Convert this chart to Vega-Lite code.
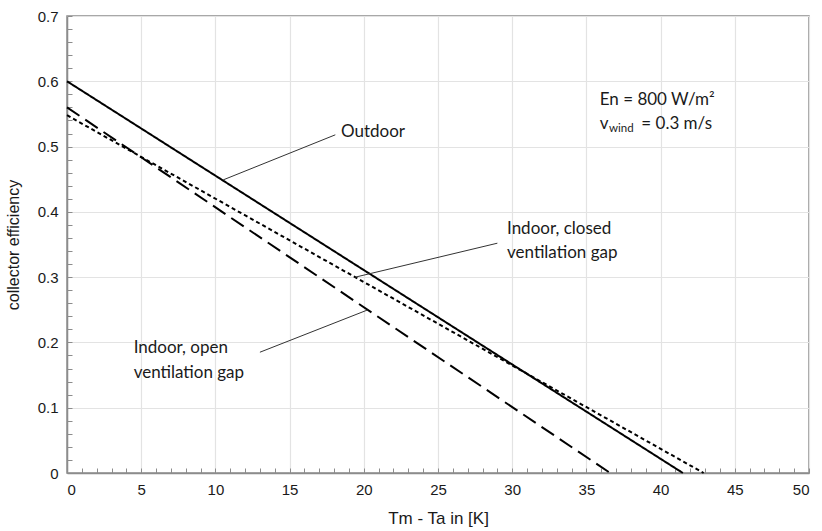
{
  "$schema": "https://vega.github.io/schema/vega-lite/v6.json",
  "width": 742,
  "height": 457,
  "autosize": {"type": "none"},
  "padding": {"left": 67, "top": 16, "right": 13, "bottom": 58},
  "background": "white",
  "config": {
    "view": {"stroke": "#8c8c8c", "strokeWidth": 1.5},
    "axis": {
      "labelFont": "Liberation Sans",
      "titleFont": "Liberation Sans",
      "labelColor": "#1a1a1a",
      "titleColor": "#1a1a1a",
      "labelFontSize": 15,
      "titleFontSize": 15,
      "titleFontWeight": "normal",
      "domainColor": "#8c8c8c",
      "domainWidth": 1.5,
      "tickColor": "#8c8c8c",
      "gridColor": "#e3e3e3",
      "gridWidth": 1.2,
      "labelOverlap": false
    }
  },
  "datasets": {
    "curves": [
      {"series": "Outdoor", "x": 0, "y": 0.6},
      {"series": "Outdoor", "x": 41.5, "y": 0},
      {"series": "Indoor, closed ventilation gap", "x": 0, "y": 0.548},
      {"series": "Indoor, closed ventilation gap", "x": 42.9, "y": 0},
      {"series": "Indoor, open ventilation gap", "x": 0, "y": 0.56},
      {"series": "Indoor, open ventilation gap", "x": 36.6, "y": 0}
    ],
    "leaders": [
      {"x": 10.53, "y": 0.449, "x2": 18.08, "y2": 0.518},
      {"x": 19.43, "y": 0.3, "x2": 29.0, "y2": 0.352},
      {"x": 13.0, "y": 0.185, "x2": 20.24, "y2": 0.2496}
    ],
    "labels": [
      {"t": "Outdoor", "x": 18.46, "y": 0.5227},
      {"t": "Indoor, closed", "x": 29.65, "y": 0.373},
      {"t": "ventilation gap", "x": 29.65, "y": 0.3364},
      {"t": "Indoor, open", "x": 4.49, "y": 0.191},
      {"t": "ventilation gap", "x": 4.49, "y": 0.1536},
      {"t": "En = 800 W/m²", "x": 35.9, "y": 0.572},
      {"t": "v", "x": 35.9, "y": 0.534},
      {"t": "= 0.3 m/s", "x": 38.7, "y": 0.534}
    ],
    "subs": [
      {"t": "wind", "x": 36.52, "y": 0.534}
    ]
  },
  "layer": [
    {
      "data": {"name": "curves"},
      "mark": {"type": "line", "color": "black", "strokeWidth": 2},
      "encoding": {
        "x": {
          "field": "x", "type": "quantitative",
          "scale": {"domain": [0, 50], "nice": false, "zero": false},
          "axis": {
            "title": "Tm - Ta in [K]",
            "titleFontSize": 17,
            "titlePadding": 13,
            "tickCount": 100,
            "values": [0,1,2,3,4,5,6,7,8,9,10,11,12,13,14,15,16,17,18,19,20,21,22,23,24,25,26,27,28,29,30,31,32,33,34,35,36,37,38,39,40,41,42,43,44,45,46,47,48,49,50],
            "labelExpr": "datum.value % 5 == 0 ? format(datum.value, 'd') : ''",
            "gridOpacity": {"condition": {"test": "datum.value % 5 == 0", "value": 1}, "value": 0},
            "tickSize": -5,
            "labelPadding": 14
          }
        },
        "y": {
          "field": "y", "type": "quantitative",
          "scale": {"domain": [0, 0.7], "nice": false},
          "axis": {
            "title": "collector efficiency",
            "titleFontSize": 16,
            "titlePadding": 16,
            "tickCount": 100,
            "values": [0,0.02,0.04,0.06,0.08,0.1,0.12,0.14,0.16,0.18,0.2,0.22,0.24,0.26,0.28,0.3,0.32,0.34,0.36,0.38,0.4,0.42,0.44,0.46,0.48,0.5,0.52,0.54,0.56,0.58,0.6,0.62,0.64,0.66,0.68,0.7],
            "labelExpr": "abs(datum.value*10 - round(datum.value*10)) < 0.001 ? (datum.value == 0 ? '0' : format(datum.value, '.1f')) : ''",
            "gridOpacity": {"condition": {"test": "abs(datum.value*10 - round(datum.value*10)) < 0.001", "value": 1}, "value": 0},
            "tickSize": -5,
            "labelPadding": 14
          }
        },
        "strokeDash": {
          "field": "series", "type": "nominal",
          "scale": {
            "domain": ["Outdoor", "Indoor, closed ventilation gap", "Indoor, open ventilation gap"],
            "range": [[1, 0], [4, 3], [15, 7]]
          },
          "legend": null
        }
      }
    },
    {
      "data": {"name": "leaders"},
      "mark": {"type": "rule", "color": "#333333", "strokeWidth": 1},
      "encoding": {
        "x": {"field": "x", "type": "quantitative"},
        "y": {"field": "y", "type": "quantitative"},
        "x2": {"field": "x2"},
        "y2": {"field": "y2"}
      }
    },
    {
      "data": {"name": "labels"},
      "mark": {"type": "text", "align": "left", "baseline": "middle", "font": "Lato", "fontSize": 17, "color": "#1a1a1a"},
      "encoding": {
        "x": {"field": "x", "type": "quantitative"},
        "y": {"field": "y", "type": "quantitative"},
        "text": {"field": "t"}
      }
    },
    {
      "data": {"name": "subs"},
      "mark": {"type": "text", "align": "left", "baseline": "middle", "font": "Lato", "fontSize": 11.5, "dy": 5, "color": "#1a1a1a"},
      "encoding": {
        "x": {"field": "x", "type": "quantitative"},
        "y": {"field": "y", "type": "quantitative"},
        "text": {"field": "t"}
      }
    }
  ]
}
